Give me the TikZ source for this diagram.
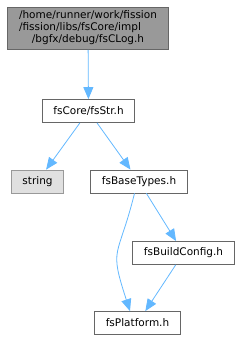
\documentclass[tikz,border=0pt]{standalone}
\usepackage{fontspec}
\setmainfont{DejaVu Sans}
\usepackage{xcolor}
\usetikzlibrary{arrows.meta}
\definecolor{edgeblue}{HTML}{63B8FF}
\definecolor{boxline}{HTML}{666666}
\definecolor{curfill}{HTML}{999999}
\definecolor{extfill}{HTML}{E0E0E0}
\definecolor{extline}{HTML}{999999}

\begin{document}
\begin{tikzpicture}[x=1pt,y=-1pt,
  file/.style={draw=boxline,fill=white,line width=0.8pt,inner xsep=11pt,inner ysep=3pt,minimum height=23pt,font=\fontsize{10.5}{12}\selectfont},
  extern/.style={file,draw=extline,fill=extfill},
  dep/.style={draw=edgeblue,line width=0.8pt,-{Triangle[length=12pt,width=10pt]}}]
\useasboundingbox (0,0) rectangle (241,340);
% files
\node[file,fill=curfill,inner xsep=11.5pt] (clog) at (88,28.5) {\begin{tabular}{@{}l@{}}
  /home/runner/work/fission\\
  /fission/libs/fsCore/impl\\
  \multicolumn{1}{@{}c@{}}{/bgfx/debug/fsCLog.h}\end{tabular}};
\node[file] (str) at (88.5,111) {fsCore/fsStr.h};
\node[extern] (string) at (37.5,181.5) {string};
\node[file] (base) at (139,181.5) {fsBaseTypes.h};
\node[file] (build) at (183.5,253) {fsBuildConfig.h};
\node[file] (plat) at (137.5,323) {fsPlatform.h};
% includes
\draw[dep] (clog) -- (str);
\draw[dep] (str) -- (string);
\draw[dep] (str) -- (base);
\draw[dep] ([xshift=-4.5pt]base.south) to[out=-104,in=108,looseness=1.5] ([xshift=-7.5pt]plat.north);
\draw[dep] (base) -- (build);
\draw[dep] (build) -- (plat);
\end{tikzpicture}
\end{document}
